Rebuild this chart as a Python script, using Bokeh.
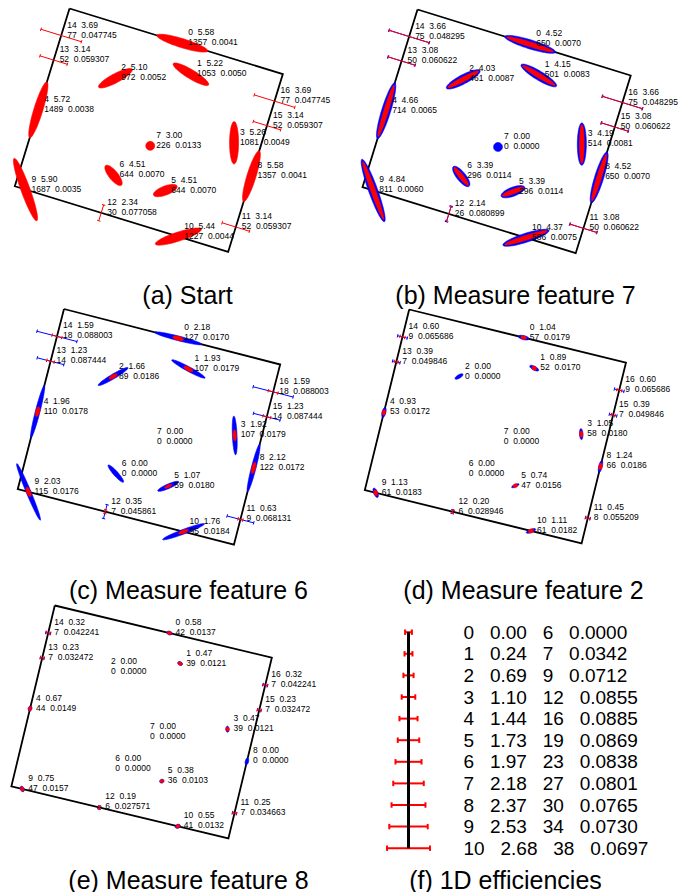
import numpy as np
from bokeh.plotting import figure
from bokeh.models import Range1d
from bokeh.embed import file_html
from bokeh.resources import INLINE
from bokeh.core.properties import value

# ---------------- map: a 6 m x 5 m room with 17 features ----------------
ROOM_W, ROOM_H = 6.0, 5.0
feature_ids = list(range(17))
# position in the room frame (metres; x along the top wall, y down the left wall)
feature_x = [3.17, 3.64, 1.73, 5.29, 0.00, 3.90, 2.45, 3.16, 6.00, 0.30, 4.60,
             6.00, 2.43, 0.00, 0.00, 6.00, 6.00]
feature_y = [0.00, 0.73, 1.43, 2.15, 2.85, 3.92, 3.94, 2.89, 2.87, 5.00, 5.00,
             4.30, 5.00, 1.45, 0.76, 1.45, 0.76]
# features 0-10 are points, 11-16 are wall (line) features
n_point_features = 11
# direction of each search ellipse's major axis / each wall feature's normal (deg, room frame)
feature_angle = [0, 14, -45, 73, 90, -38, 34, 0, 90, 53, -35,
                 0, 90, 0, 0, 0, 0]

titles = ["(a) Start", "(b) Measure feature 7", "(c) Measure feature 6",
          "(d) Measure feature 2", "(e) Measure feature 8", "(f) 1D efficiencies"]

# expected information gain, search cost (pixels) and efficiency of every feature, per step
info_a = [5.58, 5.22, 5.10, 5.26, 5.72, 4.51, 4.51, 3.00, 5.58, 5.90, 5.44, 3.14, 2.34, 3.14, 3.69, 3.14, 3.69]
cost_a = [1357, 1053, 972, 1081, 1489, 644, 644, 226, 1357, 1687, 1227, 52, 30, 52, 77, 52, 77]
eff_a = [0.0041, 0.0050, 0.0052, 0.0049, 0.0038, 0.0070, 0.0070, 0.0133, 0.0041, 0.0035, 0.0044,
         0.059307, 0.077058, 0.059307, 0.047745, 0.059307, 0.047745]

info_b = [4.52, 4.15, 4.03, 4.19, 4.66, 3.39, 3.39, 0.00, 4.52, 4.84, 4.37, 3.08, 2.14, 3.08, 3.66, 3.08, 3.66]
cost_b = [650, 501, 461, 514, 714, 296, 296, 0, 650, 811, 586, 50, 26, 50, 75, 50, 75]
eff_b = [0.0070, 0.0083, 0.0087, 0.0081, 0.0065, 0.0114, 0.0114, 0.0000, 0.0070, 0.0060, 0.0075,
         0.060622, 0.080899, 0.060622, 0.048295, 0.060622, 0.048295]

info_c = [2.18, 1.93, 1.66, 1.92, 1.96, 1.07, 0.00, 0.00, 2.12, 2.03, 1.76, 0.63, 0.35, 1.23, 1.59, 1.23, 1.59]
cost_c = [127, 107, 89, 107, 110, 59, 0, 0, 122, 115, 95, 9, 7, 14, 18, 14, 18]
eff_c = [0.0170, 0.0179, 0.0186, 0.0179, 0.0178, 0.0180, 0.0000, 0.0000, 0.0172, 0.0176, 0.0184,
         0.068131, 0.045861, 0.087444, 0.088003, 0.087444, 0.088003]

info_d = [1.04, 0.89, 0.00, 1.05, 0.93, 0.74, 0.00, 0.00, 1.24, 1.13, 1.11, 0.45, 0.20, 0.39, 0.60, 0.39, 0.60]
cost_d = [57, 52, 0, 58, 53, 47, 0, 0, 66, 61, 61, 8, 6, 7, 9, 7, 9]
eff_d = [0.0179, 0.0170, 0.0000, 0.0180, 0.0172, 0.0156, 0.0000, 0.0000, 0.0186, 0.0183, 0.0182,
         0.055209, 0.028946, 0.049846, 0.065686, 0.049846, 0.065686]

info_e = [0.58, 0.47, 0.00, 0.47, 0.67, 0.38, 0.00, 0.00, 0.00, 0.75, 0.55, 0.25, 0.19, 0.23, 0.32, 0.23, 0.32]
cost_e = [42, 39, 0, 39, 44, 36, 0, 0, 0, 47, 41, 7, 6, 7, 7, 7, 7]
eff_e = [0.0137, 0.0121, 0.0000, 0.0121, 0.0149, 0.0103, 0.0000, 0.0000, 0.0000, 0.0157, 0.0132,
         0.034663, 0.027571, 0.032472, 0.042241, 0.032472, 0.042241]

# elongation (major / minor) of the point-feature search ellipses, per step
elong_a = [5.9, 4.6, 4.2, 4.7, 6.5, 2.8, 2.8, 1.0, 5.9, 7.4, 5.4]
elong_b = [10.4, 8.1, 7.4, 8.3, 11.5, 5.0, 5.0, 1.0, 10.4, 13.1, 9.6]
elong_c = [2.7, 2.6, 2.6, 3.2, 2.6, 3.1, 1.0, 1.0, 3.3, 2.5, 3.0]
elong_d = [1.6, 1.4, 1.0, 1.8, 1.6, 1.2, 1.0, 1.0, 2.0, 1.6, 1.4]
elong_e = [1.2, 1.2, 1.0, 1.2, 1.2, 1.2, 1.0, 1.0, 1.0, 1.2, 1.2]

# 1D case: measurement count, information gain, cost, efficiency
steps_1d = list(range(11))
gain_1d = [0.00, 0.24, 0.69, 1.10, 1.44, 1.73, 1.97, 2.18, 2.37, 2.53, 2.68]
cost_1d = [6, 7, 9, 12, 16, 19, 23, 27, 30, 34, 38]
eff_1d = [0.0000, 0.0342, 0.0712, 0.0855, 0.0885, 0.0869, 0.0838, 0.0801, 0.0765, 0.0730, 0.0697]

# ---------------- layout ----------------
W, H = 697, 892
SCALE = 37.2                       # px per metre
VIEWS = [(69.0, 8.0, 17.1), (417.0, 9.0, 17.2), (63.5, 308.5, 14.4),
         (408.7, 309.0, 13.8), (54.3, 605.0, 13.5)]   # room corner (px) and rotation (deg)
PIX_PER_PX2 = 3.6                  # search pixels per displayed px^2
SEG_PX_PER_PIX = 0.55              # displayed length of a wall search window per pixel
CAP = 3.5
LABEL_DX, LINE1_DY, LINE2_DY = 6.0, -11.0, -1.0
LABEL_FONT = value("Liberation Sans")
TITLE_POS = [(187, 294), (515, 294), (188, 589), (523, 589), (188, 879), (505, 879)]
RED, BLUE = "#ff0000", "#0000ff"
SP = "\u00a0"                      # non-collapsing space for column gaps

T = np.linspace(0, 2 * np.pi, 48, endpoint=False)


def place(view, x, y):
    ox, oy, rot = view
    r = np.radians(rot)
    X, Y = np.asarray(x) * SCALE, np.asarray(y) * SCALE
    return ox + X * np.cos(r) - Y * np.sin(r), oy + X * np.sin(r) + Y * np.cos(r)


def search_marks(view, cost, elong):
    """Search ellipses (point features) and search windows (wall features) for one step."""
    ell_xs, ell_ys = [], []
    seg = ([], [], [], [])
    rot = np.radians(view[2])
    for k in feature_ids:
        n = cost[k]
        if n <= 0:
            continue
        cx, cy = place(view, feature_x[k], feature_y[k])
        th = rot + np.radians(feature_angle[k])
        ct, st = np.cos(th), np.sin(th)
        if k < n_point_features:
            area = n / PIX_PER_PX2
            minor = np.sqrt(4 * area / (np.pi * elong[k]))
            major = elong[k] * minor
            a, b = major / 2, minor / 2
            ell_xs.append(list(cx + a * np.cos(T) * ct - b * np.sin(T) * st))
            ell_ys.append(list(cy + a * np.cos(T) * st + b * np.sin(T) * ct))
        else:
            half = 0.5 * SEG_PX_PER_PIX * n
            ends = [(cx - half * ct, cy - half * st), (cx + half * ct, cy + half * st)]
            seg[0].append(ends[0][0]); seg[1].append(ends[0][1])
            seg[2].append(ends[1][0]); seg[3].append(ends[1][1])
            for ex, ey in ends:
                seg[0].append(ex - CAP / 2 * -st); seg[1].append(ey - CAP / 2 * ct)
                seg[2].append(ex + CAP / 2 * -st); seg[3].append(ey + CAP / 2 * ct)
    return ell_xs, ell_ys, seg


p = figure(width=W, height=H, x_range=Range1d(0, W), y_range=Range1d(H, 0),
           x_axis_type=None, y_axis_type=None, toolbar_location=None,
           output_backend="svg", min_border=0)
p.grid.visible = False
p.outline_line_color = None
p.background_fill_color = "white"

steps = [(info_a, cost_a, eff_a, elong_a), (info_b, cost_b, eff_b, elong_b),
         (info_c, cost_c, eff_c, elong_c), (info_d, cost_d, eff_d, elong_d),
         (info_e, cost_e, eff_e, elong_e)]

# room outlines
room_xs, room_ys = [], []
for view in VIEWS:
    rx, ry = place(view, [0, ROOM_W, ROOM_W, 0, 0], [0, 0, ROOM_H, ROOM_H, 0])
    room_xs.append(list(rx)); room_ys.append(list(ry))
p.multi_line(room_xs, room_ys, line_color="black", line_width=1.8, line_join="miter")

# prior (blue, previous step) and posterior (red) search regions
blue_ell = ([], [])
blue_seg = ([], [], [], [])
red_ell = ([], [])
red_seg = ([], [], [], [])
for i, view in enumerate(VIEWS):
    _, cost, _, elong = steps[i]
    ex, ey, sg = search_marks(view, cost, elong)
    red_ell[0].extend(ex); red_ell[1].extend(ey)
    for j in range(4):
        red_seg[j].extend(sg[j])
    if i > 0:
        _, pcost, _, pelong = steps[i - 1]
        ex, ey, sg = search_marks(view, pcost, pelong)
        blue_ell[0].extend(ex); blue_ell[1].extend(ey)
        for j in range(4):
            blue_seg[j].extend(sg[j])

p.patches(blue_ell[0], blue_ell[1], fill_color=BLUE, line_color=BLUE, line_width=0.6)
p.segment(*blue_seg, line_color=BLUE, line_width=1)
p.patches(red_ell[0], red_ell[1], fill_color=RED, line_color=RED, line_width=0.6)
p.segment(*red_seg, line_color=RED, line_width=1)

# feature labels: "id  gain" over "cost  efficiency"
lx, ly, lt = [], [], []
for i, view in enumerate(VIEWS):
    info, cost, eff, _ = steps[i]
    fx, fy = place(view, feature_x, feature_y)
    for k in feature_ids:
        digits = 4 if k < n_point_features else 6
        lx += [fx[k] + LABEL_DX, fx[k] + LABEL_DX]
        ly += [fy[k] + LINE1_DY, fy[k] + LINE2_DY]
        lt += [f"{k}{SP * 2}{info[k]:.2f}", f"{cost[k]}{SP * 2}{eff[k]:.{digits}f}"]
p.text(lx, ly, text=lt, text_font=LABEL_FONT, text_font_size="8.5px",
       text_baseline="middle", text_align="left", text_color="black")

# (f) 1D search windows and table
F_AXIS_X, F_TOP, F_STEP, F_HALF_PER_PIX, F_TEXT_X = 408.0, 631.7, 21.6, 0.565, 463.0
fy = F_TOP + F_STEP * np.array(steps_1d, dtype=float)
half = F_HALF_PER_PIX * np.array(cost_1d, dtype=float)
p.segment(F_AXIS_X - half, fy, F_AXIS_X + half, fy, line_color=RED, line_width=2)
p.segment(F_AXIS_X - half, fy - 2.7, F_AXIS_X - half, fy + 2.7, line_color=RED, line_width=2)
p.segment(F_AXIS_X + half, fy - 2.7, F_AXIS_X + half, fy + 2.7, line_color=RED, line_width=2)
p.segment([F_AXIS_X], [fy[0]], [F_AXIS_X], [fy[-1]], line_color="black", line_width=3)
gap = SP * 3
rows = [f"{s}{gap}{g:.2f}{gap}{n}{gap}{e:.4f}" for s, g, n, e in zip(steps_1d, gain_1d, cost_1d, eff_1d)]
p.text([F_TEXT_X] * len(rows), list(fy), text=rows, text_font=LABEL_FONT,
       text_font_size="19px", text_baseline="middle", text_align="left", text_color="black")

# captions
p.text([x for x, _ in TITLE_POS], [y for _, y in TITLE_POS], text=titles, text_font=LABEL_FONT,
       text_font_size="25px", text_baseline="alphabetic", text_align="center", text_color="black")

open("out.html", "w").write(file_html(p, INLINE))
